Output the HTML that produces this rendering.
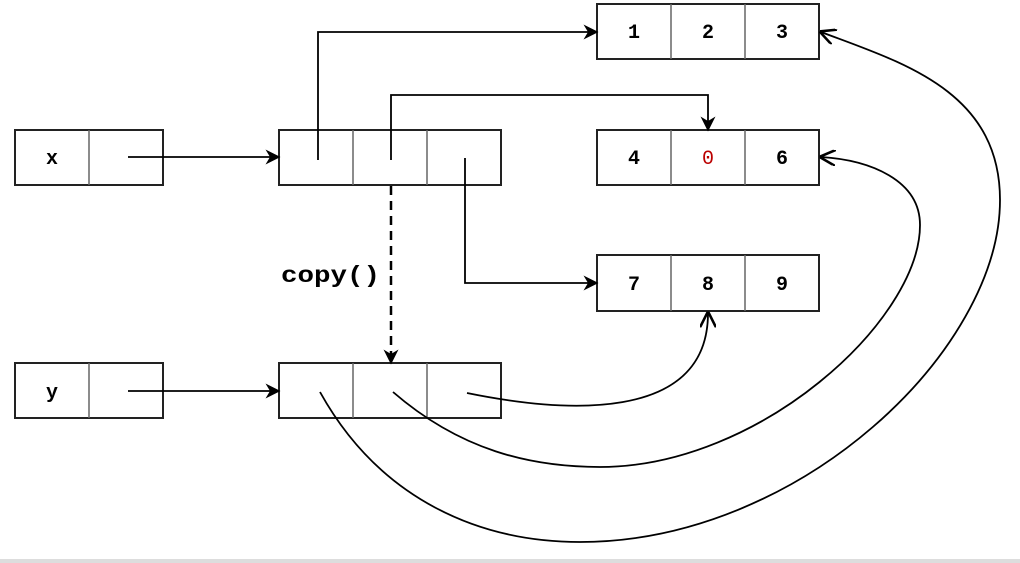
<!DOCTYPE html>
<html><head><style>body{margin:0;background:#fff}svg{display:block}</style></head><body>
<svg width="1020" height="563" viewBox="0 0 1020 563" xmlns="http://www.w3.org/2000/svg">
<defs><marker id="a" viewBox="0 0 10 10" refX="9" refY="5" markerWidth="15" markerHeight="15" orient="auto" markerUnits="userSpaceOnUse"><path d="M0,0 L10,5 L0,10 L3,5 z" fill="#000"/></marker>
<marker id="o" viewBox="0 0 10 10" refX="9" refY="5" markerWidth="16" markerHeight="16" orient="auto" markerUnits="userSpaceOnUse"><path d="M0,0 L10,5 L0,10" fill="none" stroke="#000" stroke-width="1.6"/></marker></defs>
<rect x="0" y="559" width="1020" height="4" fill="#ddd"/>
<g fill="none" stroke="#222" stroke-width="2">
<rect x="15" y="130" width="148" height="55"/><rect x="15" y="363" width="148" height="55"/>
<rect x="279" y="130" width="222" height="55"/><rect x="279" y="363" width="222" height="55"/>
<rect x="597" y="4" width="222" height="55"/><rect x="597" y="130" width="222" height="55"/><rect x="597" y="255" width="222" height="56"/>
</g>
<g stroke="#666" stroke-width="1.5">
<line x1="89" y1="130" x2="89" y2="185"/><line x1="89" y1="363" x2="89" y2="418"/>
<line x1="353" y1="130" x2="353" y2="185"/><line x1="427" y1="130" x2="427" y2="185"/>
<line x1="353" y1="363" x2="353" y2="418"/><line x1="427" y1="363" x2="427" y2="418"/>
<line x1="671" y1="4" x2="671" y2="59"/><line x1="745" y1="4" x2="745" y2="59"/>
<line x1="671" y1="130" x2="671" y2="185"/><line x1="745" y1="130" x2="745" y2="185"/>
<line x1="671" y1="255" x2="671" y2="311"/><line x1="745" y1="255" x2="745" y2="311"/>
</g>
<g fill="none" stroke="#000" stroke-width="1.8">
<path d="M128,157 H279" marker-end="url(#a)"/>
<path d="M128,391 H279" marker-end="url(#a)"/>
<path d="M318,160 V32 H597" marker-end="url(#a)"/>
<path d="M391,160 V95 H708 V130" marker-end="url(#a)"/>
<path d="M465,158 V283 H597" marker-end="url(#a)"/>
<path d="M391,186 V363" stroke-dasharray="9,6" stroke-width="2.5" marker-end="url(#a)"/>
<path d="M467,393 C560,412 708,425 708,313" marker-end="url(#o)"/>
<path d="M393,392 C460,450 530,467 600,467 C760,467 920,320 920,225 C920,180 870,160 821,157" marker-end="url(#o)"/>
<path d="M320,392 C380,500 480,542 580,542 C800,542 1000,350 1000,200 C1000,90 900,62 821,32" marker-end="url(#o)"/>
</g>
<g font-family="Liberation Mono, monospace" font-weight="bold" font-size="20" text-anchor="middle">
<text x="52" y="164">x</text><text x="52" y="398">y</text>
<text x="634" y="38">1</text><text x="708" y="38">2</text><text x="782" y="38">3</text>
<text x="634" y="164">4</text><text x="708" y="164" fill="#b00" font-weight="normal">0</text><text x="782" y="164">6</text>
<text x="634" y="290">7</text><text x="708" y="290">8</text><text x="782" y="290">9</text>
</g>
<text x="281" y="282" font-family="Liberation Mono, monospace" font-weight="bold" font-size="23" textLength="99" lengthAdjust="spacingAndGlyphs">copy()</text>
</svg>
</body></html>
